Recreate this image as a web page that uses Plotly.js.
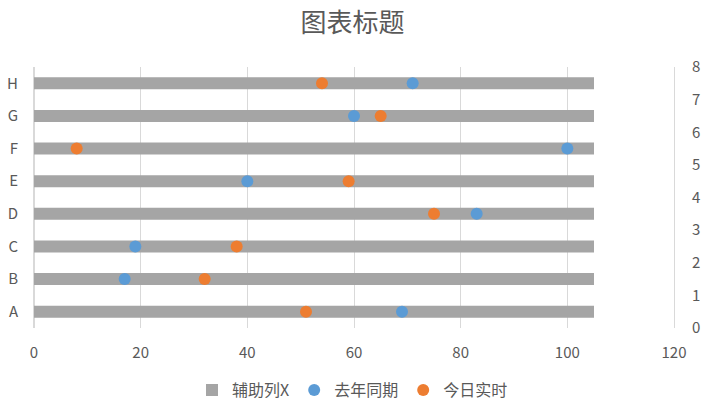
<!DOCTYPE html>
<html>
<head>
<meta charset="utf-8">
<script src="https://cdn.plot.ly/plotly-3.0.1.min.js"></script>
<style>html,body{margin:0;padding:0;background:#fff;}#chart{width:705px;height:415px;}</style>
</head>
<body>
<div id="chart"></div>
<script>
const categories = ['A','B','C','D','E','F','G','H'];
const helperX = [105,105,105,105,105,105,105,105];
const helperY = [0.5,1.5,2.5,3.5,4.5,5.5,6.5,7.5];
const lastYear = [69,17,19,83,40,100,60,71];
const today = [51,32,38,75,59,8,65,54];
const xTicks = [0,20,40,60,80,100,120];
const y2Ticks = [0,1,2,3,4,5,6,7,8];

const txt = '#595959';
const fontFam = '"Noto Sans CJK SC", "Noto Sans", sans-serif';

const traces = [
  {type:'bar', orientation:'h', name:'辅助列X', x:helperX, y:categories,
   marker:{color:'#a5a5a5'}, hoverinfo:'skip'},
  {type:'scatter', mode:'markers', name:'去年同期', x:lastYear, y:helperY, yaxis:'y2',
   marker:{color:'#5b9bd5', size:12}},
  {type:'scatter', mode:'markers', name:'今日实时', x:today, y:helperY, yaxis:'y2',
   marker:{color:'#ed7d31', size:12}}
];

const layout = {
  width:705, height:415,
  margin:{l:34, r:31, t:67, b:87},
  paper_bgcolor:'#fff', plot_bgcolor:'#fff',
  font:{family:fontFam, color:txt, size:15},
  title:{text:'图表标题', font:{size:26, color:txt, family:fontFam}, x:0.5, xanchor:'center', y:0.945, yanchor:'middle', automargin:false},
  bargap:0.63,
  showlegend:true,
  legend:{orientation:'h', xref:'container', yref:'container', x:0.5, xanchor:'center', y:0.06, yanchor:'middle',
          font:{size:16, color:txt, family:fontFam}, itemwidth:30, traceorder:'normal'},
  xaxis:{range:[0,120], tickvals:xTicks, ticktext:xTicks.map(String), showgrid:true, gridcolor:'#d9d9d9', gridwidth:1,
         zeroline:true, zerolinecolor:'#d9d9d9', zerolinewidth:1, showline:false, ticks:'', automargin:false,
         ticklabelstandoff:14, tickfont:{size:15, color:txt}, fixedrange:true},
  yaxis:{type:'category', categoryarray:categories, range:[-0.5,7.5], showgrid:false, zeroline:false, automargin:false,
         showline:true, linecolor:'#d9d9d9', ticks:'', ticklen:0, ticklabelstandoff:12, tickfont:{size:15, color:txt}},
  yaxis2:{overlaying:'y', side:'right', range:[0,8], tickvals:y2Ticks, showgrid:false, zeroline:false, automargin:false,
          showline:true, linecolor:'#d9d9d9', ticks:'', ticklabelstandoff:14, tickfont:{size:15, color:txt}}
};

Plotly.newPlot('chart', traces, layout, {displayModeBar:false, staticPlot:true});
</script>
</body>
</html>
